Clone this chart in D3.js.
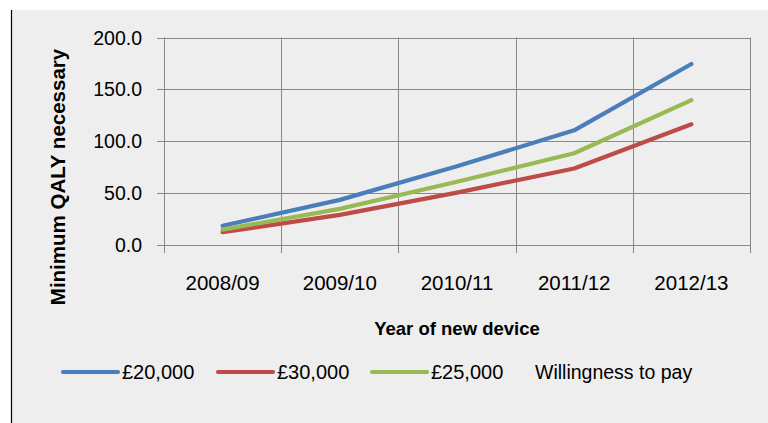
<!DOCTYPE html>
<html>
<head>
<meta charset="utf-8">
<script src="https://cdn.jsdelivr.net/npm/d3@7/dist/d3.min.js"></script>
<style>
  html, body { margin: 0; padding: 0; background: #ffffff; }
  svg { display: block; }
  text { font-family: "Liberation Sans", Arial, sans-serif; fill: #000; }
</style>
</head>
<body>
<svg id="chart" width="768" height="423"></svg>
<script>
const categories = ["2008/09", "2009/10", "2010/11", "2011/12", "2012/13"];
const wtp20000 = [18.5, 43.5, 76.0, 110.5, 174.5];
const wtp30000 = [12.3, 29.0, 50.5, 73.7, 116.3];
const wtp25000 = [14.8, 34.8, 61.0, 88.4, 139.6];
const yTicks = [0, 50, 100, 150, 200];
const seriesNames = ["£20,000", "£30,000", "£25,000"];
const legendTitle = "Willingness to pay";
const xTitle = "Year of new device";
const yTitle = "Minimum QALY necessary";

const series = [
  { name: seriesNames[0], values: wtp20000, color: "#4a7ebb" },
  { name: seriesNames[1], values: wtp30000, color: "#be4b48" },
  { name: seriesNames[2], values: wtp25000, color: "#98b954" }
];

const svg = d3.select("#chart");
const W = 768, H = 423;
const plot = { left: 164, right: 750, top: 37.5, bottom: 245 };
const gridColor = "#888888";

// chart background
svg.append("rect").attr("x", 11).attr("y", 10).attr("width", W - 11).attr("height", H - 10)
  .attr("fill", "#eeeeee");
svg.append("line").attr("x1", 11.5).attr("x2", 11.5).attr("y1", 10).attr("y2", H)
  .attr("stroke", "#000").attr("stroke-width", 1.2);

const x = d3.scaleBand().domain(categories).range([plot.left, plot.right]).padding(0);
const y = d3.scaleLinear().domain([0, 200]).range([plot.bottom, plot.top]);

// horizontal gridlines + left ticks
const g = svg.append("g");
g.selectAll("line.hgrid").data(yTicks).join("line")
  .attr("class", "hgrid")
  .attr("x1", plot.left - 7).attr("x2", plot.right)
  .attr("y1", d => Math.round(y(d)) + 0.5).attr("y2", d => Math.round(y(d)) + 0.5)
  .attr("stroke", gridColor).attr("stroke-width", 1);

// vertical gridlines at category boundaries + bottom ticks
const bounds = categories.map(c => x(c)).concat([x(categories[categories.length - 1]) + x.bandwidth()]);
g.selectAll("line.vgrid").data(bounds).join("line")
  .attr("class", "vgrid")
  .attr("x1", d => Math.round(d) + 0.5).attr("x2", d => Math.round(d) + 0.5)
  .attr("y1", plot.top).attr("y2", plot.bottom + 8)
  .attr("stroke", gridColor).attr("stroke-width", 1);

// y tick labels
svg.append("g").selectAll("text").data(yTicks).join("text")
  .attr("x", 142).attr("y", d => y(d))
  .attr("dy", "0.36em")
  .attr("text-anchor", "end")
  .style("font-size", "19.5px")
  .text(d => d3.format(".1f")(d));

// x tick labels
svg.append("g").selectAll("text").data(categories).join("text")
  .attr("x", d => x(d) + x.bandwidth() / 2).attr("y", 283)
  .attr("dy", "0.36em")
  .attr("text-anchor", "middle")
  .style("font-size", "20.5px")
  .text(d => d);

// axis titles
svg.append("text")
  .attr("transform", "translate(58,177) rotate(-90)")
  .attr("dy", "0.36em")
  .attr("text-anchor", "middle")
  .style("font-size", "20.5px").style("font-weight", "bold")
  .text(yTitle);

svg.append("text")
  .attr("x", (plot.left + plot.right) / 2).attr("y", 328)
  .attr("dy", "0.36em")
  .attr("text-anchor", "middle")
  .style("font-size", "18.5px").style("font-weight", "bold")
  .text(xTitle);

// lines
const line = d3.line()
  .x((d, i) => x(categories[i]) + x.bandwidth() / 2)
  .y(d => y(d));

svg.append("g").selectAll("path").data(series).join("path")
  .attr("d", d => line(d.values))
  .attr("fill", "none")
  .attr("stroke", d => d.color)
  .attr("stroke-width", 4.2)
  .attr("stroke-linecap", "round")
  .attr("stroke-linejoin", "round");

// legend
const legendY = 372;
const legendX = [63, 218, 372];
const lg = svg.append("g");
series.forEach((s, i) => {
  lg.append("line")
    .attr("x1", legendX[i]).attr("x2", legendX[i] + 55)
    .attr("y1", legendY).attr("y2", legendY)
    .attr("stroke", s.color).attr("stroke-width", 4.2).attr("stroke-linecap", "round");
  lg.append("text")
    .attr("x", legendX[i] + 59).attr("y", legendY)
    .attr("dy", "0.36em")
    .style("font-size", "20px")
    .text(s.name);
});
lg.append("text")
  .attr("x", 535).attr("y", legendY)
  .attr("dy", "0.36em")
  .style("font-size", "19.5px")
  .text(legendTitle);
</script>
</body>
</html>
